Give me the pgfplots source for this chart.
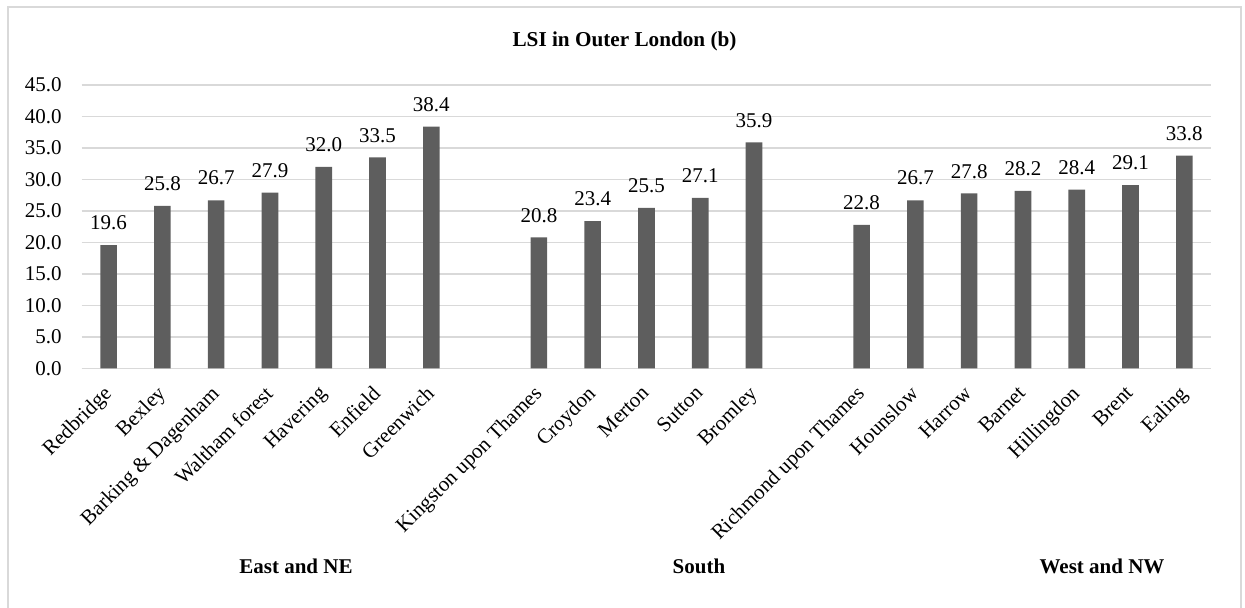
\documentclass[border=0pt]{standalone}
\usepackage{pgfplots}
\pgfplotsset{compat=1.18}
\usepackage{fontspec}
\setmainfont{Liberation Serif}

\definecolor{barfill}{HTML}{5E5E5E}
\definecolor{gridgray}{HTML}{D9D9D9}
\definecolor{framegray}{HTML}{D9D9D9}

% LSI values by borough, x = slot position (gaps separate the three areas)
\pgfplotstableread{
x   lsi
0   19.6
1   25.8
2   26.7
3   27.9
4   32.0
5   33.5
6   38.4
8   20.8
9   23.4
10  25.5
11  27.1
12  35.9
14  22.8
15  26.7
16  27.8
17  28.2
18  28.4
19  29.1
20  33.8
}\lsidata

\newcommand{\chartfont}{\fontsize{10.5}{12}\selectfont}

\begin{document}
\begin{tikzpicture}
  % page extent
  \useasboundingbox (0,0) rectangle (622.5pt,304pt);
  % chart frame (open at the bottom edge)
  \draw[framegray, line width=1pt] (4.15pt,-3pt) -- (4.15pt,300.35pt) -- (620.25pt,300.35pt) -- (620.25pt,-3pt);

  \begin{axis}[
    at={(40.85pt,119.75pt)}, anchor=south west,
    scale only axis,
    width=564.75pt, height=141.75pt,
    xmin=-0.5, xmax=20.5,
    ymin=0, ymax=45,
    ybar, bar width=8.3pt,
    axis x line*=bottom, axis y line*=left,
    x axis line style={draw=gridgray, line width=0.65pt, -},
    y axis line style={draw=none},
    major tick length=0pt,
    ymajorgrids,
    grid style={draw=gridgray, line width=0.65pt},
    ytick={0,5,...,45},
    xtick={0,1,2,3,4,5,6,8,9,10,11,12,14,15,16,17,18,19,20},
    xticklabels={Redbridge,Bexley,Barking \& Dagenham,Waltham forest,Havering,Enfield,Greenwich,
      Kingston upon Thames,Croydon,Merton,Sutton,Bromley,
      Richmond upon Thames,Hounslow,Harrow,Barnet,Hillingdon,Brent,Ealing},
    /pgf/number format/assume math mode=true,
    yticklabel style={font=\chartfont, inner sep=0pt, xshift=-9.8pt,
      /pgf/number format/.cd, fixed, fixed zerofill, precision=1},
    xticklabel style={font=\chartfont, xshift=-3.2pt, yshift=-7.8pt,
      rotate=45, anchor=north east, inner sep=0pt},
    nodes near coords={\pgfmathprintnumber[fixed,fixed zerofill,precision=1]{\pgfplotspointmeta}},
    nodes near coords style={font=\chartfont, anchor=south, inner sep=0pt, yshift=7.3pt},
    clip=false,
  ]
    \addplot[fill=barfill, draw=none] table[x=x, y=lsi] {\lsidata};
  \end{axis}

  % chart title and area labels
  \node[font=\fontsize{10.6}{12}\selectfont\bfseries] at (312.25pt,283.15pt) {LSI in Outer London (b)};
  \node[font=\fontsize{10.5}{12}\selectfont\bfseries] at (148pt,20.65pt) {East and NE};
  \node[font=\fontsize{10.5}{12}\selectfont\bfseries] at (349.5pt,20.65pt) {South};
  \node[font=\fontsize{10.5}{12}\selectfont\bfseries] at (551pt,20.65pt) {West and NW};
\end{tikzpicture}
\end{document}
